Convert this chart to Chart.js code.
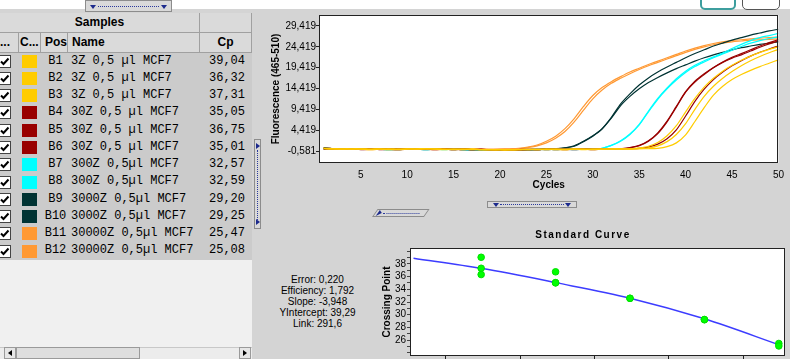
<!DOCTYPE html>
<html>
<head>
<meta charset="utf-8">
<script src="https://cdn.jsdelivr.net/npm/chart.js@4.4.1/dist/chart.umd.min.js"></script>
<style>
  html, body { margin: 0; padding: 0; }
  body { width: 790px; height: 359px; overflow: hidden; position: relative; background: #d4d4d4;
         font-family: 'Liberation Sans', Arial, sans-serif; color: #000; }
  .abs { position: absolute; box-sizing: border-box; }
  #topStrip { left: 0; top: 0; width: 790px; height: 9px; background: #fff; }
  #leftPanel { left: 0; top: 13px; width: 252px; height: 346px; background: #f0f0f0; }
  .hcell { position: absolute; box-sizing: border-box; background: #dadada; border-right: 1px solid #a0a0a0;
           border-bottom: 1px solid #a0a0a0; font-weight: bold; font-size: 12px; text-align: center; white-space: nowrap; overflow: hidden; }
  .row { position: absolute; left: 0; width: 252px; background: #cbcbcb; font-family: 'Liberation Mono', 'Courier New', monospace;
         font-size: 12px; white-space: nowrap; }
  .row span { position: absolute; top: 0; }
  .chk { position: absolute; left: -2px; width: 13px; height: 13px; background: #fff; border: 1px solid #444; box-sizing: border-box; }
  .sw { position: absolute; left: 22px; width: 15px; height: 13px; }
  .grip { position: absolute; box-sizing: border-box; background: #d9d9d9; border: 1px solid #8c8c8c; }
  .grip .dots { position: absolute; border-top: 1px dotted #2b3a9c; }
  .tri { position: absolute; width: 0; height: 0; }
  canvas { position: absolute; }
  #stats { left: 257px; top: 274px; width: 121px; font-size: 10px; line-height: 11px; text-align: center; }
  #stdTitle { left: 480px; top: 229px; width: 206px; font-size: 10px; font-weight: bold; letter-spacing: 1.5px; text-align: center; line-height: 12px; }
</style>
</head>
<body>
<div class="abs" id="topStrip"></div>
<div class="abs" style="left:700px;top:-9px;width:36px;height:19px;border:2px solid #3d9e9e;border-radius:5px;background:#fff;"></div>
<div class="abs" style="left:742px;top:-9px;width:38px;height:19px;border:1px solid #555;border-radius:5px;background:#fff;"></div>

<div class="abs" id="leftPanel"></div>
<div id="table"></div>

<!-- scrollbar -->
<div class="abs" style="left:0;top:347px;width:252px;height:12px;background:#ececec;border-top:1px solid #c8c8c8;"></div>
<div class="abs" style="left:4px;top:347px;width:12px;height:12px;background:#e6e6e6;border:1px solid #9a9a9a;"></div>
<div class="tri" style="left:8px;top:350px;border-top:3px solid transparent;border-bottom:3px solid transparent;border-right:4px solid #000;"></div>
<div class="abs" style="left:16px;top:347px;width:124px;height:12px;background:#dedede;border:1px solid #9a9a9a;"></div>
<div class="abs" style="left:239px;top:347px;width:12px;height:12px;background:#e6e6e6;border:1px solid #9a9a9a;"></div>
<div class="tri" style="left:243px;top:350px;border-top:3px solid transparent;border-bottom:3px solid transparent;border-left:4px solid #000;"></div>

<!-- grips -->
<div class="grip" style="left:85px;top:0;width:87px;height:12px;">
  <div class="dots" style="left:12px;right:12px;top:5px;"></div>
  <div class="tri" style="left:4px;top:4px;border-left:3px solid transparent;border-right:3px solid transparent;border-top:4px solid #1c2a8c;"></div>
  <div class="tri" style="right:4px;top:4px;border-left:3px solid transparent;border-right:3px solid transparent;border-top:4px solid #1c2a8c;"></div>
</div>
<div class="grip" style="left:254px;top:139px;width:7px;height:90px;">
  <div class="dots" style="left:2px;top:10px;height:70px;border-top:none;border-left:1px dotted #2b3a9c;"></div>
  <div class="tri" style="left:1px;top:3px;border-top:3px solid transparent;border-bottom:3px solid transparent;border-left:4px solid #1c2a8c;"></div>
  <div class="tri" style="left:1px;bottom:3px;border-top:3px solid transparent;border-bottom:3px solid transparent;border-left:4px solid #1c2a8c;"></div>
</div>
<div class="grip" style="left:487px;top:201px;width:90px;height:7px;">
  <div class="dots" style="left:12px;right:12px;top:2px;"></div>
  <div class="tri" style="left:5px;top:1px;border-left:3px solid transparent;border-right:3px solid transparent;border-top:4px solid #1c2a8c;"></div>
  <div class="tri" style="right:5px;top:1px;border-left:3px solid transparent;border-right:3px solid transparent;border-top:4px solid #1c2a8c;"></div>
</div>
<div class="grip" style="left:372px;top:209px;width:52px;height:8px;transform:skewX(-35deg);transform-origin:left bottom;">
  <div class="dots" style="left:8px;right:6px;top:3px;"></div>
  <div class="tri" style="left:2px;top:0px;border-top:3px solid transparent;border-bottom:3px solid transparent;border-left:4px solid #1c2a8c;"></div>
</div>

<canvas id="ampChart" width="535" height="195" style="left:255px;top:0;"></canvas>
<canvas id="stdChart" width="410" height="135" style="left:380px;top:240px;"></canvas>

<div class="abs" id="stdTitle">Standard Curve</div>
<div class="abs" id="stats">
  <div>Error: 0,220</div>
  <div>Efficiency: 1,792</div>
  <div>Slope: -3,948</div>
  <div>YIntercept: 39,29</div>
  <div>Link: 291,6</div>
</div>

<script>
// samples table
const samplePos = ['B1', 'B2', 'B3', 'B4', 'B5', 'B6', 'B7', 'B8', 'B9', 'B10', 'B11', 'B12'];
const sampleNames = ['3Z 0,5 µl MCF7', '3Z 0,5 µl MCF7', '3Z 0,5 µl MCF7', '30Z 0,5 µl MCF7', '30Z 0,5 µl MCF7',
  '30Z 0,5 µl MCF7', '300Z 0,5µl MCF7', '300Z 0,5µl MCF7', '3000Z 0,5µl MCF7', '3000Z 0,5µl MCF7',
  '30000Z 0,5µl MCF7', '30000Z 0,5µl MCF7'];
const sampleCp = [39.04, 36.32, 37.31, 35.05, 36.75, 35.01, 32.57, 32.59, 29.20, 29.25, 25.47, 25.08];
const sampleColors = ['#ffcc00', '#ffcc00', '#ffcc00', '#990000', '#990000', '#990000',
  '#00ffff', '#00ffff', '#003333', '#003333', '#ff9933', '#ff9933'];
const sampleConc = [3, 3, 3, 30, 30, 30, 300, 300, 3000, 3000, 30000, 30000];

// amplification curves, cycles 1..50
const cycles = [1, 2, 3, 4, 5, 6, 7, 8, 9, 10, 11, 12, 13, 14, 15, 16, 17, 18, 19, 20, 21, 22, 23, 24, 25,
  26, 27, 28, 29, 30, 31, 32, 33, 34, 35, 36, 37, 38, 39, 40, 41, 42, 43, 44, 45, 46, 47, 48, 49, 50];
const fluoB1 = [0.2, 0.1, 0.0, 0.1, 0.0, 0.0, 0.1, 0.0, -0.1, 0.0,
  0.1, 0.1, 0.0, 0.0, -0.1, 0.0, 0.0, -0.1, -0.1, -0.2,
  -0.2, -0.1, -0.1, -0.1, 0.0, -0.1, -0.1, 0.0, 0.0, -0.1,
  0.0, 0.0, 0.0, 0.0, 0.1, 0.1,
  0.2, 0.6, 1.5, 3.4, 6.6, 9.9, 12.9, 15.0, 16.6, 17.8, 18.8, 19.7, 20.5, 21.3];
const fluoB2 = [0.1, 0.0, 0.1, 0.0, 0.0, -0.1, 0.0, 0.1, 0.0, 0.0,
  0.0, 0.1, 0.0, -0.1, 0.0, 0.0, -0.1, -0.1, -0.2, -0.1,
  -0.1, -0.1, 0.0, -0.1, 0.0, 0.0, -0.1, 0.0, 0.0, 0.0,
  0.0, 0.1, 0.0, 0.1,
  0.3, 0.7, 1.6, 3.2, 5.6, 8.9, 12.1, 14.8, 16.9, 18.6, 20.0, 21.2, 22.2, 23.1, 23.8, 24.4];
const fluoB3 = [0.2, 0.1, 0.0, 0.0, 0.1, 0.0, 0.0, -0.1, 0.0, 0.1,
  0.0, 0.0, 0.1, 0.0, 0.0, -0.1, 0.0, -0.1, -0.1, -0.1,
  -0.2, -0.1, -0.1, 0.0, -0.1, 0.0, 0.0, 0.0, -0.1, 0.0,
  0.0, 0.0, 0.1, 0.0, 0.1,
  0.3, 0.8, 1.8, 3.5, 6.1, 9.5, 12.6, 15.0, 16.9, 18.5, 19.9, 21.1, 22.1, 23.0, 23.8];
const fluoB4 = [0.1, 0.0, 0.0, 0.1, -0.1, 0.0, 0.1, 0.0, 0.0, 0.1,
  0.0, 0.0, -0.1, 0.0, 0.0, 0.0, -0.1, -0.1, -0.1, -0.2,
  -0.1, -0.1, -0.1, 0.0, -0.1, 0.0, 0.0, -0.1, 0.0, 0.0,
  0.0, 0.0,
  0.1, 0.3, 0.8, 1.9, 3.7, 6.5, 10.0, 13.6, 16.0, 17.8, 19.4, 20.7, 21.7, 22.5, 23.4, 24.3, 25.1, 25.8];
const fluoB5 = [0.0, 0.1, 0.0, 0.0, 0.0, 0.1, -0.1, 0.0, 0.1, 0.0,
  0.0, 0.0, 0.0, 0.1, 0.0, -0.1, -0.1, 0.0, -0.2, -0.1,
  -0.1, -0.2, -0.1, -0.1, 0.0, 0.0, -0.1, 0.0, 0.0, 0.0,
  0.0, 0.1, 0.0, 0.1,
  0.2, 0.5, 1.2, 2.5, 4.6, 7.9, 11.4, 14.3, 16.6, 18.4, 19.9, 21.1, 22.2, 23.1, 23.9, 24.6];
const fluoB6 = [0.1, 0.1, 0.0, 0.0, 0.0, 0.0, 0.1, 0.0, -0.1, 0.0,
  0.1, 0.0, 0.0, 0.0, -0.1, 0.0, -0.1, -0.1, -0.1, -0.1,
  -0.2, -0.1, 0.0, -0.1, 0.0, -0.1, 0.0, 0.0, 0.0, -0.1,
  0.0, 0.0,
  0.1, 0.4, 0.9, 2.0, 3.9, 6.7, 10.2, 13.7, 16.2, 18.0, 19.5, 20.8, 21.9, 22.8, 23.7, 24.6, 25.4, 26.1];
const fluoB7 = [0.1, 0.0, 0.0, 0.0, 0.1, 0.0, 0.0, 0.0, 0.1, 0.0,
  0.0, -0.1, 0.0, 0.0, 0.0, -0.1, -0.2, -0.3, -0.3, -0.2,
  -0.2, -0.1, -0.1, -0.1, 0.0, -0.1, 0.0, 0.0, 0.0, 0.0,
  0.2, 0.9, 2.0, 3.6, 5.9, 9.1, 12.1, 14.6, 16.8, 18.6, 20.0, 21.1, 22.0, 22.9, 24.0, 25.0, 25.9, 26.6, 27.1, 27.6];
const fluoB8 = [0.0, 0.0, 0.1, 0.0, 0.0, 0.1, 0.0, -0.1, 0.0, 0.0,
  0.1, 0.0, 0.0, -0.1, 0.0, -0.1, -0.2, -0.3, -0.2, -0.2,
  -0.1, -0.1, -0.1, 0.0, -0.1, 0.0, 0.0, -0.1, 0.0, 0.0,
  0.2, 0.9, 1.9, 3.5, 5.8, 8.9, 11.9, 14.4, 16.5, 18.3, 19.7, 20.8, 21.8, 22.7, 23.6, 24.5, 25.3, 25.9, 26.4, 26.8];
const fluoB9 = [0.3, 0.1, 0.0, 0.0, 0.0, 0.1, 0.0, -0.1, -0.1, 0.0,
  0.0, 0.0, 0.0, 0.0, -0.1, 0.0, -0.1, -0.2, -0.3, -0.3,
  -0.3, -0.2, -0.2, -0.1, 0.0,
  0.1, 0.3, 0.8, 1.9, 3.2, 4.9, 7.6, 10.8, 13.2, 15.3, 17.0, 18.4, 19.6, 20.7, 21.8,
  22.8, 23.7, 24.6, 25.3, 26.0, 26.6, 27.2, 27.7, 28.2, 28.6];
const fluoB10 = [0.2, 0.1, 0.0, 0.1, 0.0, 0.0, 0.0, 0.0, 0.1, 0.0,
  0.0, -0.1, 0.0, 0.0, 0.0, -0.1, -0.1, -0.2, -0.2, -0.3,
  -0.3, -0.2, -0.1, -0.1, 0.0,
  0.1, 0.3, 0.7, 1.8, 3.1, 4.8, 7.4, 10.4, 12.6, 14.4, 15.9, 17.1, 18.2, 19.2, 20.1,
  21.0, 21.8, 22.5, 23.1, 23.7, 24.2, 24.6, 25.0, 25.3, 25.6];
const fluoB11 = [0.3, 0.1, 0.0, 0.0, 0.1, 0.0, 0.0, 0.1, 0.0, 0.0,
  0.1, 0.0, 0.0, 0.0, 0.0, 0.1, 0.0, 0.0, 0.0, 0.0, 0.0,
  0.1, 0.4, 0.8, 1.5, 2.6, 4.2, 6.5, 9.3, 12.0, 14.1, 15.7, 16.9, 18.0, 19.0, 19.9,
  20.7, 21.5, 22.3, 23.1, 23.8, 24.4, 24.9, 25.3, 25.6, 25.8, 26.0, 26.1, 26.2, 26.3];
const fluoB12 = [0.3, 0.1, 0.0, 0.1, 0.0, -0.1, 0.0, 0.1, 0.0, 0.0,
  0.1, 0.0, -0.1, 0.0, 0.0, 0.1, 0.0, 0.0, -0.1, 0.0,
  0.1, 0.2, 0.5, 1.0, 1.9, 3.1, 4.9, 7.3, 10.2, 12.8, 14.7, 16.1, 17.3, 18.4, 19.3,
  20.2, 21.0, 21.8, 22.6, 23.4, 24.1, 24.7, 25.2, 25.6, 25.9, 26.1, 26.3, 26.5, 26.6, 26.7];
const fluorescence = [fluoB1, fluoB2, fluoB3, fluoB4, fluoB5, fluoB6, fluoB7, fluoB8, fluoB9, fluoB10, fluoB11, fluoB12];

// axis ticks
const cycleTicks = [5, 10, 15, 20, 25, 30, 35, 40, 45, 50];
const fluoTicks = [-0.581, 4.419, 9.419, 14.419, 19.419, 24.419, 29.419];
const stdConcTicks = [1, 10, 100, 1000, 10000];
const cpTicks = [24, 25, 26, 27, 28, 29, 30, 31, 32, 33, 34, 35, 36, 37, 38, 39, 40];
const cpLabels = [26, 28, 30, 32, 34, 36, 38];

// standard curve fit
const fitConc = [0.37, 3, 30, 300, 3000, 33000];
const fitCp = [38.9, 37.3, 35.05, 32.6, 29.35, 25.1];

// build table
const table = document.getElementById('table');
function cell(l, t, w, h, txt, extra) {
  const d = document.createElement('div');
  d.className = 'hcell';
  d.style.cssText = `left:${l}px;top:${t}px;width:${w}px;height:${h}px;line-height:${h - 1}px;` + (extra || '');
  d.textContent = txt;
  table.appendChild(d);
}
cell(0, 13, 200, 20, 'Samples');
cell(200, 13, 52, 20, '');
cell(0, 33, 19, 20, '...', 'text-align:left;');
cell(19, 33, 22, 20, 'C...', 'text-align:left;padding-left:1px;');
cell(41, 33, 27, 20, 'Pos', 'text-align:left;padding-left:4px;');
cell(68, 33, 132, 20, 'Name', 'text-align:left;padding-left:4px;');
cell(200, 33, 52, 20, 'Cp');

const rowH = 17.27;
samplePos.forEach((pos, i) => {
  const top = 52.5 + i * rowH;
  const r = document.createElement('div');
  r.className = 'row';
  r.style.cssText = `top:${top}px;height:${rowH}px;line-height:${rowH}px;`;
  r.innerHTML =
    `<div class="chk" style="top:${(rowH - 13) / 2}px;"><svg width="11" height="11" style="position:absolute;left:0;top:0"><path d="M2 5.5 L4.5 8 L9.5 2.5" stroke="#000" stroke-width="2" fill="none"/></svg></div>` +
    `<div class="sw" style="top:${(rowH - 13) / 2}px;background:${sampleColors[i]};"></div>` +
    `<span style="left:41px;width:29px;text-align:center;">${pos}</span>` +
    `<span style="left:71px;">${sampleNames[i]}</span>` +
    `<span style="left:200px;width:45px;text-align:right;">${sampleCp[i].toFixed(2).replace('.', ',')}</span>`;
  table.appendChild(r);
});

// white plot background and frame
const plotBox = {
  id: 'plotBox',
  beforeDraw(chart) {
    const { ctx, chartArea: a } = chart;
    ctx.save();
    ctx.fillStyle = '#fff';
    ctx.fillRect(a.left, a.top, a.right - a.left, a.bottom - a.top);
    ctx.restore();
  },
  afterDraw(chart) {
    const { ctx, chartArea: a } = chart;
    ctx.save();
    ctx.strokeStyle = '#222';
    ctx.lineWidth = 1;
    ctx.strokeRect(Math.round(a.left) + 0.5, Math.round(a.top) + 0.5,
      Math.round(a.right - a.left) - 1, Math.round(a.bottom - a.top) - 1);
    ctx.restore();
  }
};

Chart.defaults.font.family = "'Liberation Sans', Arial, sans-serif";
Chart.defaults.font.size = 10;
Chart.defaults.color = '#000';

let ampChart = new Chart(document.getElementById('ampChart'), {
  type: 'line',
  data: {
    datasets: fluorescence.map((vals, i) => ({
      label: samplePos[i],
      data: cycles.map((c, k) => ({ x: c, y: vals[k] })),
      borderColor: sampleColors[i],
      borderWidth: 1.2,
      pointRadius: 0,
      tension: 0.3,
      fill: false
    }))
  },
  options: {
    responsive: false,
    animation: false,
    events: [],
    layout: { padding: { top: 15, right: 10, left: 0, bottom: 0 } },
    plugins: { legend: { display: false }, tooltip: { enabled: false } },
    scales: {
      x: {
        type: 'linear',
        min: 0.5,
        max: 50,
        afterBuildTicks: (s) => { s.ticks = cycleTicks.map((v) => ({ value: v })); },
        afterFit: (s) => { s.height = 32; },
        grid: { display: false, drawTicks: false },
        border: { display: false },
        ticks: { padding: 6, autoSkip: false, maxRotation: 0 },
        title: { display: true, text: 'Cycles', font: { size: 10, weight: 'bold' }, padding: { top: 0, bottom: 4 } }
      },
      y: {
        type: 'linear',
        min: -3.3,
        max: 32,
        afterBuildTicks: (s) => { s.ticks = fluoTicks.map((v) => ({ value: v })); },
        afterFit: (s) => { s.width = 64; },
        grid: { drawOnChartArea: false, tickLength: 3, color: '#222' },
        border: { display: false },
        ticks: { padding: 0, autoSkip: false, callback: (v) => v.toFixed(3).replace('.', ',') },
        title: { display: true, text: 'Fluorescence (465-510)', font: { size: 10, weight: 'bold' }, padding: { top: 15, bottom: 0 } }
      }
    }
  },
  plugins: [plotBox]
});

let stdChart = new Chart(document.getElementById('stdChart'), {
  type: 'scatter',
  data: {
    datasets: [
      {
        type: 'line',
        data: fitConc.map((c, i) => ({ x: Math.log10(c), y: fitCp[i] })),
        borderColor: '#3c3cff',
        borderWidth: 1.5,
        pointRadius: 0,
        cubicInterpolationMode: 'monotone',
        order: 2
      },
      {
        data: sampleConc.map((c, i) => ({ x: Math.log10(c), y: sampleCp[i] })),
        backgroundColor: '#00ff00',
        borderColor: '#00e000',
        borderWidth: 1,
        pointRadius: 3.3,
        order: 1
      }
    ]
  },
  options: {
    responsive: false,
    animation: false,
    events: [],
    layout: { padding: { top: 8, right: 4, left: 0, bottom: 0 } },
    plugins: { legend: { display: false }, tooltip: { enabled: false } },
    scales: {
      x: {
        type: 'linear',
        min: -0.479,
        max: 4.56,
        afterBuildTicks: (s) => { s.ticks = stdConcTicks.map((v) => ({ value: Math.log10(v) })); },
        afterFit: (s) => { s.height = 19; },
        grid: { drawOnChartArea: false, tickLength: 4, color: '#222' },
        border: { display: false },
        ticks: { display: false }
      },
      y: {
        type: 'linear',
        min: 23.5,
        max: 40.5,
        afterBuildTicks: (s) => { s.ticks = cpTicks.map((v) => ({ value: v })); },
        afterFit: (s) => { s.width = 30; },
        grid: { drawOnChartArea: false, tickLength: 3, color: '#444' },
        border: { display: false },
        ticks: { padding: 1, autoSkip: false, callback: (v) => (cpLabels.includes(v) ? String(v) : '') },
        title: { display: true, text: 'Crossing Point', font: { size: 10, weight: 'bold' }, padding: { top: 1, bottom: 0 } }
      }
    }
  },
  plugins: [plotBox]
});
</script>
</body>
</html>
